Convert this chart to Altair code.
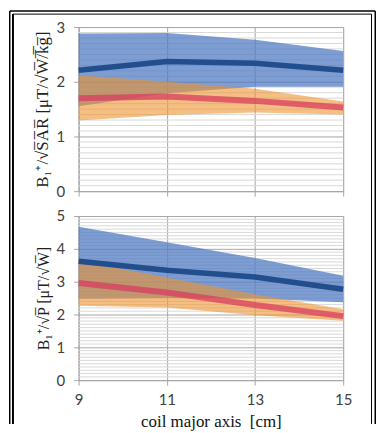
import altair as alt
import pandas as pd

# ---- data ----
coil_axis = [9, 11, 13, 15]

# top panel: B1+/sqrt(SAR)
sar_blue_mean = [2.21, 2.37, 2.34, 2.21]
sar_blue_hi = [2.88, 2.89, 2.77, 2.56]
sar_blue_lo = [1.55, 1.79, 1.91, 1.91]
sar_orange_mean = [1.70, 1.73, 1.65, 1.53]
sar_orange_hi = [2.12, 2.00, 1.87, 1.64]
sar_orange_lo = [1.29, 1.39, 1.44, 1.40]

# bottom panel: B1+/sqrt(P)
p_blue_mean = [3.62, 3.35, 3.14, 2.77]
p_blue_hi = [4.67, 4.20, 3.72, 3.18]
p_blue_lo = [2.48, 2.50, 2.49, 2.37]
p_orange_mean = [2.96, 2.67, 2.29, 1.95]
p_orange_hi = [3.64, 3.13, 2.62, 2.16]
p_orange_lo = [2.27, 2.21, 1.98, 1.81]

x_ticks = [9, 11, 13, 15]
sar_ticks = [0, 1, 2, 3]
p_ticks = [0, 1, 2, 3, 4, 5]

W, H = 266, 165
LABEL_FONT = "Lato"
TITLE_FONT = "Liberation Serif"


def minor_values(top):
    return [round(i / 10, 1) for i in range(top * 10 + 1) if i % 10 != 0]


def panel(bm, bh, bl, om, oh, ol, ymax, yticks, ytitle, tsize, bottom):
    df = pd.DataFrame({
        "x": coil_axis, "bm": bm, "bh": bh, "bl": bl,
        "om": om, "oh": oh, "ol": ol,
    })
    yscale = alt.Scale(domain=[0, ymax], nice=False)
    xscale = alt.Scale(domain=[9, 15], nice=False)
    yaxis = alt.Axis(values=yticks, title=ytitle, grid=True, gridColor="#A6A6A6",
                     gridWidth=1, domainColor="#A6A6A6", tickColor="#A6A6A6",
                     tickSize=5, labelFont=LABEL_FONT, labelFontSize=15,
                     labelColor="#404040", labelPadding=9,
                     titleFont=TITLE_FONT, titleFontSize=tsize, titleFontWeight="normal",
                     titleColor="#222222", titlePadding=5)
    if bottom:
        xaxis = alt.Axis(values=x_ticks, title="coil major axis\u00a0\u00a0[cm]", grid=True,
                         gridColor="#A6A6A6", domainColor="#A6A6A6", tickColor="#A6A6A6",
                         tickSize=5, labelFont=LABEL_FONT, labelFontSize=15,
                         labelColor="#404040", labelPadding=8, labelFlush=False,
                         titleFont=TITLE_FONT, titleFontSize=17, titleFontWeight="normal",
                         titleColor="#111111", titlePadding=6)
    else:
        xaxis = alt.Axis(values=x_ticks, title=None, labels=False, grid=True,
                         gridColor="#A6A6A6", domainColor="#A6A6A6", tickColor="#A6A6A6",
                         tickSize=5)
    X = alt.X("x:Q", scale=xscale, axis=xaxis)

    minor = alt.Chart(pd.DataFrame({"v": minor_values(ymax)})).mark_rule(
        color="#D9D9D9", strokeWidth=1
    ).encode(y=alt.Y("v:Q", scale=yscale, axis=yaxis))

    base = alt.Chart(df)
    blue_band = base.mark_area(color="#4C78C2", opacity=0.72).encode(
        x=X, y=alt.Y("bl:Q", scale=yscale, axis=yaxis), y2="bh:Q")
    orange_band = base.mark_area(color="#EE932F", opacity=0.6).encode(
        x=X, y=alt.Y("ol:Q", scale=yscale, axis=yaxis), y2="oh:Q")
    blue_line = base.mark_line(color="#1F4A8A", strokeWidth=5.5, opacity=0.95).encode(
        x=X, y=alt.Y("bm:Q", scale=yscale, axis=yaxis))
    red_line = base.mark_line(color="#D8395E", strokeWidth=6, opacity=0.72).encode(
        x=X, y=alt.Y("om:Q", scale=yscale, axis=yaxis))

    layers = [minor, blue_band, orange_band, blue_line, red_line]

    if bottom:
        one = pd.DataFrame({"k": [0]})
        fr = alt.Chart(one)
        # decorative double frame around the whole figure (page border)
        layers += [
            fr.mark_rule(color="black", strokeWidth=1.5).encode(
                x=alt.value(-69.25), y=alt.value(-206.25), y2=alt.value(209)),
            fr.mark_rule(color="black", strokeWidth=2).encode(
                x=alt.value(-66), y=alt.value(-203), y2=alt.value(209)),
            fr.mark_rule(color="black", strokeWidth=1.5).encode(
                x=alt.value(298.25), y=alt.value(-206.25), y2=alt.value(209)),
            fr.mark_rule(color="black", strokeWidth=1).encode(
                x=alt.value(294.5), y=alt.value(-203), y2=alt.value(209)),
            fr.mark_rule(color="black", strokeWidth=1.5).encode(
                x=alt.value(-69.25), x2=alt.value(298.25), y=alt.value(-206.25)),
            fr.mark_rule(color="black", strokeWidth=1).encode(
                x=alt.value(-66), x2=alt.value(294.5), y=alt.value(-203)),
        ]
    return alt.layer(*layers).properties(width=W, height=H)


top = panel(sar_blue_mean, sar_blue_hi, sar_blue_lo,
            sar_orange_mean, sar_orange_hi, sar_orange_lo,
            3, sar_ticks, "B\u2081\u207a/\u221aS\u0305A\u0305R\u0305 [\u03bcT/\u221aW\u0305/\u0305k\u0305g\u0305]", 17, False)
bottom = panel(p_blue_mean, p_blue_hi, p_blue_lo,
               p_orange_mean, p_orange_hi, p_orange_lo,
               5, p_ticks, "B\u2081\u207a/\u221aP\u0305 [\u03bcT/\u221aW\u0305]", 16, True)

chart = alt.vconcat(top, bottom, spacing=25, bounds="flush").properties(
    padding=0
).configure_view(stroke=None).configure(background="white")

chart.save("out.html", embed_options={"renderer": "svg", "actions": False})
